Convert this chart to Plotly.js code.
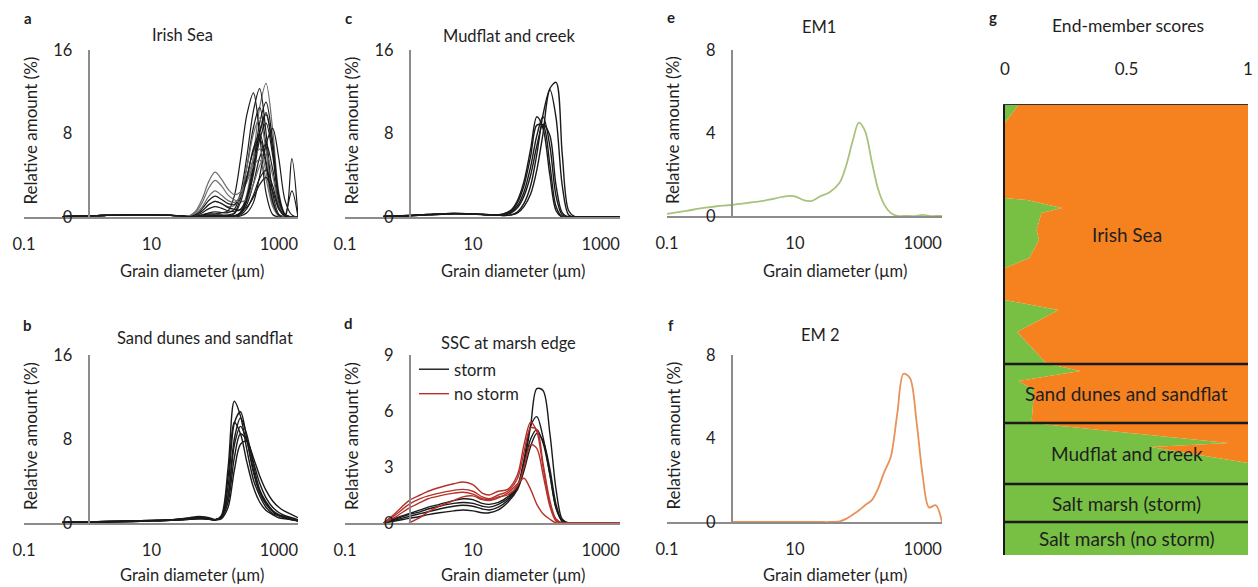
<!DOCTYPE html>
<html><head><meta charset="utf-8">
<script src="https://cdn.plot.ly/plotly-3.0.1.min.js"></script>
<style>html,body{margin:0;padding:0;background:#fff}#chart{width:1258px;height:587px}</style>
</head><body><div id="chart"></div>
<script>
// ---------- DATA ----------
// grain-size grid (µm) for panels a, b, c
const sizesCoarse = [0.4, 1, 2, 5, 10, 20, 30, 40, 50, 63, 80, 100, 125, 160, 200, 250, 315, 400, 500, 630, 800, 1000, 1250, 1600, 2000];
// grain-size grid (µm) for panels d, e, f
const sizesFine = [0.1, 0.2, 0.4, 0.6, 1, 1.5, 2, 3, 5, 7, 10, 14, 18, 25, 35, 50, 63, 80, 100, 125, 160, 200, 250, 315, 400, 500, 630, 800, 1000, 1250, 1600, 2000];

// a: Irish Sea (relative amount %)
const irishSea = [
  [0.05,0.1,0.15,0.2,0.2,0.15,0.1,0,0,0,0,0,0,0,0.1,0.5,2.2,5.9,10.5,12.8,8.4,2.4,0.3,0,0],
  [0.05,0.1,0.15,0.2,0.2,0.15,0.1,0.02,0.07,0.2,0.4,0.5,0.43,0.42,0.73,2.3,5.8,10.2,12.3,8.1,2.3,0.25,0,0,0],
  [0.05,0.1,0.15,0.2,0.2,0.15,0.1,0.05,0.1,0.2,0.3,0.3,0.4,0.6,2.0,5.5,9.8,11.9,7.9,2.3,0.24,0,0,0,0],
  [0.05,0.1,0.15,0.2,0.2,0.15,0.1,0,0,0,0.1,0.1,0.1,0.1,0.1,0.4,1.9,5.1,9.0,11,7.3,2.1,0.2,0,0],
  [0.05,0.1,0.15,0.2,0.2,0.15,0.1,0,0,0.1,0.2,0.2,0.2,0.2,0.4,1.8,4.8,8.6,10.5,6.9,2.0,0.2,0,0,0],
  [0.05,0.1,0.15,0.2,0.2,0.15,0.1,0.03,0.14,0.41,0.8,1.0,0.85,0.6,0.55,0.75,1.9,4.7,8.2,10,6.6,1.9,0.2,0,0],
  [0.05,0.1,0.15,0.2,0.2,0.15,0.1,0.05,0.2,0.6,1.2,1.5,1.3,1.0,1.1,2.1,4.7,8.0,9.5,6.3,1.8,0.2,0,0,0],
  [0.05,0.1,0.15,0.2,0.2,0.15,0.1,0,0,0,0,0,0,0,0.1,0.4,1.5,4.1,7.4,9,5.9,1.7,0.2,0,0],
  [0.05,0.1,0.15,0.2,0.2,0.15,0.1,0,0,0,0,0,0,0,0,0.1,0.4,1.4,3.9,7.0,8.5,5.6,1.6,0.2,0],
  [0.05,0.1,0.15,0.2,0.2,0.15,0.1,0.06,0.28,0.82,1.6,2.0,1.7,1.28,1.2,2.0,3.9,6.4,7.5,5.0,1.4,0.15,0,0,0],
  [0.05,0.1,0.15,0.2,0.2,0.15,0.1,0,0,0,0.1,0.1,0.1,0.1,0.1,0.3,1.2,3.2,5.7,7,4.6,1.3,0.14,0,0],
  [0.05,0.1,0.15,0.2,0.2,0.15,0.1,0.08,0.35,1.0,2.0,2.5,2.1,1.57,1.4,2.0,3.5,5.55,6.5,4.3,1.2,0.13,0,0,0],
  [0.05,0.1,0.15,0.2,0.2,0.15,0.1,0.1,0.5,1.4,2.8,3.5,3.0,2.1,1.66,1.44,1.7,3.15,4.9,6.0,4.0,1.1,0.12,0,0],
  [0.05,0.1,0.15,0.2,0.2,0.15,0.1,0.13,0.6,1.76,3.44,4.3,3.65,2.66,2.15,2.4,3.36,4.93,5.5,3.6,1.0,0.11,0,0,0],
  [0.05,0.1,0.15,0.2,0.2,0.15,0.1,0,0,0,0.05,0.1,0.1,0.1,0.1,0.2,0.8,2.1,3.7,4.5,3.0,0.9,0.1,0,0],
  [0.05,0.1,0.15,0.2,0.2,0.15,0.1,0.05,0.2,0.6,1.2,1.5,1.3,0.9,0.74,0.67,0.95,1.9,3.1,3.8,2.5,0.72,0.08,0,0],
  [0.05,0.1,0.15,0.2,0.2,0.15,0.1,0,0,0,0.1,0.1,0.1,0.1,0.3,1.4,3.7,6.6,8.0,5.3,1.5,0.16,0,5.6,0],
  [0.05,0.1,0.15,0.2,0.2,0.15,0.1,0,0,0,0,0,0,0,0.1,0.4,1.7,4.5,8.0,9.8,6.5,1.9,0.2,2.5,0]
];

// b: Sand dunes and sandflat
const sandDunes = [
  [0.05,0.1,0.15,0.2,0.25,0.3,0.4,0.45,0.5,0.5,0.4,0.3,0.7,5.3,11.6,10.2,7.0,4.1,2.6,1.5,0.9,0.7,0.6,0.35,0.2],
  [0.05,0.1,0.15,0.2,0.25,0.3,0.35,0.4,0.45,0.45,0.4,0.3,0.6,3.5,9.5,10.6,8.0,4.8,2.9,1.8,1.1,0.7,0.5,0.35,0.2],
  [0.05,0.1,0.1,0.15,0.2,0.25,0.3,0.35,0.4,0.4,0.35,0.3,0.5,2.6,8.0,10.0,8.4,5.5,3.2,2.0,1.2,0.8,0.6,0.4,0.2],
  [0.05,0.1,0.15,0.2,0.2,0.3,0.4,0.5,0.6,0.6,0.5,0.35,0.6,4.4,9.6,8.5,5.8,3.4,2.0,1.2,0.8,0.5,0.4,0.3,0.2],
  [0.05,0.1,0.1,0.15,0.2,0.25,0.3,0.35,0.4,0.45,0.4,0.3,0.5,2.6,7.4,9.2,7.8,5.0,3.0,1.8,1.1,0.7,0.5,0.3,0.2],
  [0.05,0.1,0.15,0.2,0.25,0.3,0.35,0.4,0.45,0.45,0.4,0.3,0.5,2.0,6.2,8.5,7.9,6.2,4.5,3.1,2.1,1.5,1.1,0.8,0.5],
  [0.05,0.1,0.1,0.15,0.2,0.25,0.3,0.35,0.4,0.4,0.35,0.3,0.4,1.5,5.0,7.5,7.8,5.8,3.8,2.4,1.5,1.0,0.7,0.5,0.3]
];

// c: Mudflat and creek
const mudflat = [
  [0.05,0.15,0.25,0.35,0.3,0.2,0.15,0.2,0.4,1.0,2.2,4.5,8.0,12.3,12.9,6.0,0.6,0,0,0,0,0,0,0,0],
  [0.05,0.15,0.25,0.35,0.3,0.2,0.15,0.2,0.5,1.3,3.0,6.0,9.8,12.2,9.5,3.0,0.2,0,0,0,0,0,0,0,0],
  [0.05,0.12,0.2,0.3,0.3,0.2,0.3,0.7,1.6,3.4,6.5,9.6,8.5,4.0,0.6,0,0,0,0,0,0,0,0,0,0],
  [0.05,0.12,0.2,0.3,0.28,0.2,0.2,0.5,1.1,2.4,4.8,7.8,9.6,6.8,2.0,0.2,0,0,0,0,0,0,0,0,0],
  [0.05,0.15,0.25,0.35,0.3,0.2,0.3,0.6,1.4,3.0,5.8,8.8,8.8,5.0,1.0,0,0,0,0,0,0,0,0,0,0],
  [0.05,0.12,0.2,0.3,0.28,0.2,0.2,0.4,0.9,2.0,4.0,6.8,8.9,7.8,3.0,0.4,0,0,0,0,0,0,0,0,0]
];

// d: SSC at marsh edge
const sscStorm = [
  [null,null,0,0.25,0.5,0.7,0.85,1.0,1.2,1.3,1.25,1.05,1.0,1.1,1.4,2.0,3.2,5.2,7.2,7.1,4.8,1.8,0.2,0,0,0,0,0,0,0,0,0],
  [null,null,0,0.2,0.45,0.6,0.75,0.9,1.05,1.1,1.05,0.9,0.85,1.0,1.3,2.0,3.4,5.2,5.7,4.6,2.6,0.8,0.1,0,0,0,0,0,0,0,0,0],
  [null,null,0,0.15,0.35,0.5,0.6,0.75,0.9,0.95,0.9,0.75,0.7,0.85,1.2,1.9,3.0,4.5,5.0,4.3,2.6,0.8,0.1,0,0,0,0,0,0,0,0,0],
  [null,null,0,0.1,0.25,0.35,0.45,0.55,0.65,0.7,0.65,0.55,0.55,0.7,1.1,1.8,2.8,4.1,4.8,4.4,2.9,1.0,0.1,0,0,0,0,0,0,0,0,0]
];
const sscNoStorm = [
  [null,null,0,0.5,1.2,1.5,1.7,1.9,2.1,2.2,2.05,1.6,1.5,1.7,1.8,2.6,4.2,5.4,4.9,3.0,1.0,0.2,0,0,0,0,0,0,0,0,0,0],
  [null,null,0,0.4,1.0,1.3,1.45,1.6,1.75,1.8,1.7,1.4,1.3,1.5,1.7,2.4,3.8,5.1,5.0,3.2,1.2,0.2,0,0,0,0,0,0,0,0,0,0],
  [null,null,0,0.3,0.8,1.1,1.3,1.45,1.6,1.65,1.55,1.3,1.25,1.4,1.5,2.0,3.0,4.2,4.0,2.6,0.9,0.1,0,0,0,0,0,0,0,0,0,0],
  [null,null,null,null,0,0.3,0.6,0.9,1.2,1.4,1.45,1.25,1.2,1.35,1.6,2.1,2.4,1.8,1.0,0.5,0.2,0,0,0,0,0,0,0,0,0,0,0]
];

// e, f: end members
const em1Curve = [0.1,0.25,0.4,0.47,0.53,0.6,0.65,0.72,0.85,0.95,0.95,0.75,0.72,0.95,1.15,1.6,2.4,3.6,4.5,4.1,2.6,1.3,0.55,0.15,0,0,0,0,0.05,0,0,0];
const em2Curve = [null,null,null,null,0,0,0,0,0,0,0,0,0,0,0,0.03,0.15,0.35,0.55,0.8,1.05,1.6,2.4,3.1,5.2,7.1,6.9,4.8,2.2,0.7,0.8,0];

// g: end-member scores down the sample sequence
const samplePosition = [0, 18, 93, 95, 103, 108, 125, 135, 153, 163, 195, 205, 227, 257, 259, 266, 276, 285, 315, 318, 320, 338, 342, 358, 379, 417, 450];
const em1Score = [0.055, 0, 0, 0.09, 0.235, 0.15, 0.13, 0.14, 0.10, 0, 0, 0.22, 0.05, 0.165, 0.18, 0.31, 0.055, 0.12, 0.11, 0.12, 0.19, 0.92, 0.6, 1, 1, 1, 1];
const em2Score = [0.945, 1, 1, 0.91, 0.765, 0.85, 0.87, 0.86, 0.90, 1, 1, 0.78, 0.95, 0.835, 0.82, 0.69, 0.945, 0.88, 0.89, 0.88, 0.81, 0.08, 0.4, 0, 0, 0, 0];
const sectionNames = ['Irish Sea', 'Sand dunes and sandflat', 'Mudflat and creek', 'Salt marsh (storm)', 'Salt marsh (no storm)'];
const sectionEdges = [0, 259, 318, 379, 417, 450];

const xTickVals = [0.1, 10, 1000];
const xTickText = ['0.1', '10', '1000'];

// ---------- DRAWING ----------
const W = 1258, H = 587;
const px = v => v / W;
const py = v => 1 - v / H;
const FONT = "Lato, 'Open Sans', sans-serif";
const TXT = '#1f1f1f';
const AXC = '#8c8c8c';
const LOGMIN = -1, LOGMAX = Math.log10(2000);

const panels = [
  {id:'', letter:'a', title:'Irish Sea', xd:[24,298], yd:[50,217], ymax:16, yt:[0,8,16], tx:182, ty:[18,35], gy:271},
  {id:'2', letter:'b', title:'Sand dunes and sandflat', xd:[24,298], yd:[355,523], ymax:16, yt:[0,8,16], tx:205, ty:[325,338], gy:575},
  {id:'3', letter:'c', title:'Mudflat and creek', xd:[345,620], yd:[50,217], ymax:16, yt:[0,8,16], tx:509, ty:[18,36], gy:271},
  {id:'4', letter:'d', title:'SSC at marsh edge', xd:[345,620], yd:[355,523], ymax:9, yt:[0,3,6,9], tx:508, ty:[323,343], gy:575},
  {id:'5', letter:'e', title:'EM1', xd:[667,942], yd:[50,216], ymax:8, yt:[0,4,8], tx:819, ty:[17,27], gy:271},
  {id:'6', letter:'f', title:'EM 2', xd:[667,942], yd:[355,522], ymax:8, yt:[0,4,8], tx:820, ty:[325,335], gy:575}
];

const layout = {
  width: W, height: H, margin:{l:0,r:0,t:0,b:0},
  paper_bgcolor:'#fff', plot_bgcolor:'rgba(0,0,0,0)',
  font:{family:FONT, color:TXT, size:16},
  showlegend:true,
  legend:{x:px(414), y:py(352), xanchor:'left', yanchor:'top', bgcolor:'rgba(0,0,0,0)', traceorder:'normal',
          font:{family:FONT, size:16.5, color:TXT}, itemwidth:30, tracegroupgap:0},
  annotations:[], shapes:[]
};

function ann(text, x, y, size, extra) {
  layout.annotations.push(Object.assign({text, xref:'paper', yref:'paper', x:px(x), y:py(y),
    xanchor:'center', yanchor:'middle', showarrow:false, font:{family:FONT, size, color:TXT}}, extra||{}));
}

panels.forEach(p => {
  const xa = 'xaxis' + p.id, ya = 'yaxis' + p.id;
  const w = p.xd[1] - p.xd[0];
  layout[xa] = {domain:[px(p.xd[0]), px(p.xd[1])], type:'log', range:[LOGMIN, LOGMAX], anchor:'y'+p.id,
    showline:true, linecolor:AXC, linewidth:1.5, showgrid:false, zeroline:false,
    tickvals:xTickVals, ticktext:xTickText, ticks:'outside', ticklen:12, tickcolor:'rgba(0,0,0,0)',
    tickfont:{family:FONT, size:16.5, color:TXT}, fixedrange:true};
  // vertical axis crosses the horizontal one at 1 µm
  layout[ya] = {domain:[py(p.yd[1]), py(p.yd[0])], range:[0, p.ymax], anchor:'free',
    position: px(p.xd[0] + w * (0 - LOGMIN) / (LOGMAX - LOGMIN)),
    showline:true, linecolor:AXC, linewidth:1.8, showgrid:false, zeroline:false,
    tickvals:p.yt, ticks:'outside', ticklen:12, tickcolor:'rgba(0,0,0,0)',
    tickfont:{family:FONT, size:16.5, color:TXT}, fixedrange:true};
  ann('<b>' + p.letter + '</b>', p.xd[0] + 4, p.ty[0], 15);
  ann(p.title, p.tx, p.ty[1], 16.5);
  ann('Grain diameter (µm)', p.xd[0] + 168, p.gy, 16.5);
  ann('Relative amount (%)', p.xd[0] + 6, (p.yd[0] + p.yd[1]) / 2 - 3, 17, {textangle:-90});
});

const traces = [];
function curve(x, y, n, color, width, extra) {
  traces.push(Object.assign({type:'scatter', mode:'lines', x, y, xaxis:'x'+n, yaxis:'y'+n,
    line:{color, width, shape:'spline', smoothing:0.9}, showlegend:false, hoverinfo:'skip'}, extra||{}));
}
const greyIdx = [6, 11, 12, 13, 0];
irishSea.forEach((c, i) => curve(sizesCoarse, c, '', greyIdx.includes(i) ? '#6f6f6f' : '#1a1a1a', 1.2));
sandDunes.forEach(c => curve(sizesCoarse, c, '2', '#1a1a1a', 1.4));
mudflat.forEach(c => curve(sizesCoarse, c, '3', '#1a1a1a', 1.4));
sscStorm.forEach((c, i) => curve(sizesFine, c, '4', '#1a1a1a', 1.4, i===0 ? {showlegend:true, name:'storm'} : {}));
sscNoStorm.forEach((c, i) => curve(sizesFine, c, '4', '#b5322b', 1.4, i===0 ? {showlegend:true, name:'no storm'} : {}));
curve(sizesFine, em1Curve, '5', '#a9c27c', 1.8);
curve(sizesFine, em2Curve, '6', '#e8925a', 1.8);

// panel g
layout.xaxis7 = {domain:[px(1005), px(1248)], range:[0,1], anchor:'y7', side:'top',
  showline:true, linecolor:'#333', linewidth:1, showgrid:false, zeroline:false,
  tickvals:[0,0.5,1], ticktext:['0','0.5','1'], ticks:'outside', ticklen:22, tickcolor:'rgba(0,0,0,0)',
  tickfont:{family:FONT, size:17, color:TXT}, fixedrange:true};
layout.yaxis7 = {domain:[py(555), py(105)], range:[sectionEdges[sectionEdges.length-1], 0], anchor:'x7',
  showline:true, linecolor:'#1a1a1a', linewidth:2.5, showgrid:false, zeroline:false,
  showticklabels:false, ticks:'', fixedrange:true};
traces.push({type:'scatter', mode:'lines', x:em1Score, y:samplePosition, xaxis:'x7', yaxis:'y7',
  stackgroup:'g', orientation:'h', line:{width:0, color:'#78c043'}, fillcolor:'#78c043', showlegend:false, hoverinfo:'skip'});
traces.push({type:'scatter', mode:'lines', x:em2Score, y:samplePosition, xaxis:'x7', yaxis:'y7',
  stackgroup:'g', line:{width:0, color:'#f5821f'}, fillcolor:'#f5821f', showlegend:false, hoverinfo:'skip'});
sectionEdges.slice(1, -1).forEach(b => layout.shapes.push({type:'line', xref:'x7', yref:'y7',
  x0:0, x1:1, y0:b, y1:b, line:{color:'#1a1a1a', width:2.5}}));
sectionNames.forEach((name, i) => layout.annotations.push({text:name, xref:'x7', yref:'y7', x:0.5,
  y:(sectionEdges[i] + sectionEdges[i+1]) / 2, showarrow:false, xanchor:'center', yanchor:'middle',
  font:{family:FONT, size:19, color:TXT}}));
ann('<b>g</b>', 993, 17, 15);
ann('End-member scores', 1128, 25, 17.5);

Plotly.newPlot('chart', traces, layout, {staticPlot:true, displayModeBar:false});
</script></body></html>
